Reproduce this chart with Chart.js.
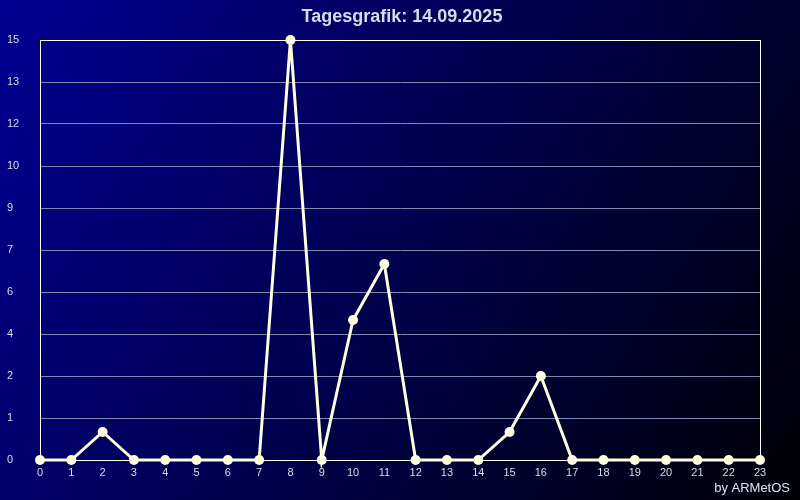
<!DOCTYPE html>
<html>
<head>
<meta charset="utf-8">
<script src="https://cdn.jsdelivr.net/npm/chart.js@4"></script>
<style>
  html, body { margin: 0; padding: 0; background: #000; }
  canvas { display: block; }
</style>
</head>
<body>
<canvas id="dayChart" width="800" height="500"></canvas>
<script>
// Stunden und Werte
const hours = ['0','1','2','3','4','5','6','7','8','9','10','11','12','13','14','15','16','17','18','19','20','21','22','23'];
const values = [0, 0, 1, 0, 0, 0, 0, 0, 15, 0, 5, 7, 0, 0, 0, 1, 3, 0, 0, 0, 0, 0, 0, 0];
// Beschriftung der Y-Achse (so wie im Original)
const yTickLabels = ['0', '1', '2', '4', '6', '7', '9', '10', '12', '13', '15'];

const titleText = 'Tagesgrafik: 14.09.2025';
const creditText = 'by ARMetOS';
const lineColor = 'rgb(255, 255, 224)';

const backgroundPlugin = {
    id: 'background',
    beforeDraw(chart) {
        const ctx = chart.ctx;
        const g = ctx.createLinearGradient(0, 0, chart.width, chart.height);
        g.addColorStop(0, '#000094');
        g.addColorStop(1, '#000006');
        ctx.save();
        ctx.fillStyle = g;
        ctx.fillRect(0, 0, chart.width, chart.height);
        ctx.restore();
    },
    beforeDatasetsDraw(chart) {
        // weisser Rahmen um den Plotbereich
        const a = chart.chartArea;
        const ctx = chart.ctx;
        ctx.save();
        ctx.strokeStyle = '#ffffff';
        ctx.lineWidth = 1;
        ctx.strokeRect(a.left + 0.5, a.top + 0.5, a.right - a.left, a.bottom - a.top);
        ctx.restore();
    },
    afterDraw(chart) {
        const ctx = chart.ctx;
        ctx.save();
        ctx.fillStyle = '#d4dcf0';
        ctx.font = 'bold 18px "Liberation Sans", Arial, sans-serif';
        ctx.textAlign = 'center';
        ctx.textBaseline = 'middle';
        ctx.fillText(titleText, 402, 17);
        ctx.font = '13px "Liberation Sans", Arial, sans-serif';
        ctx.fillStyle = '#e0e4f0';
        ctx.textAlign = 'right';
        ctx.fillText(creditText, 790, 488);
        ctx.restore();
    }
};

new Chart(document.getElementById('dayChart').getContext('2d'), {
    type: 'line',
    data: {
        labels: hours,
        datasets: [{
            data: values,
            borderColor: lineColor,
            backgroundColor: lineColor,
            borderWidth: 3,
            pointRadius: 5,
            pointBorderWidth: 0,
            pointBackgroundColor: lineColor,
            tension: 0,
            clip: false
        }]
    },
    options: {
        responsive: false,
        animation: false,
        layout: {
            padding: { top: 40, right: 40, left: 7, bottom: 0 }
        },
        plugins: {
            legend: { display: false },
            tooltip: { enabled: false }
        },
        scales: {
            x: {
                offset: false,
                grid: { display: false, drawTicks: false },
                border: { color: '#ffffff', width: 1 },
                ticks: {
                    color: '#d8dcec',
                    font: { size: 11, family: '"Liberation Sans", Arial, sans-serif' },
                    padding: 6,
                    maxRotation: 0,
                    autoSkip: false
                },
                afterFit(scale) { scale.height = 40; }
            },
            y: {
                min: 0,
                max: 15,
                grid: { color: '#8088b0', drawTicks: false },
                border: { color: '#ffffff', width: 1 },
                ticks: {
                    stepSize: 1.5,
                    crossAlign: 'far',
                    color: '#d8dcec',
                    font: { size: 11, family: '"Liberation Sans", Arial, sans-serif' },
                    callback: (value, index) => yTickLabels[index]
                },
                afterFit(scale) { scale.width = 33; }
            }
        }
    },
    plugins: [backgroundPlugin]
});
</script>
</body>
</html>
